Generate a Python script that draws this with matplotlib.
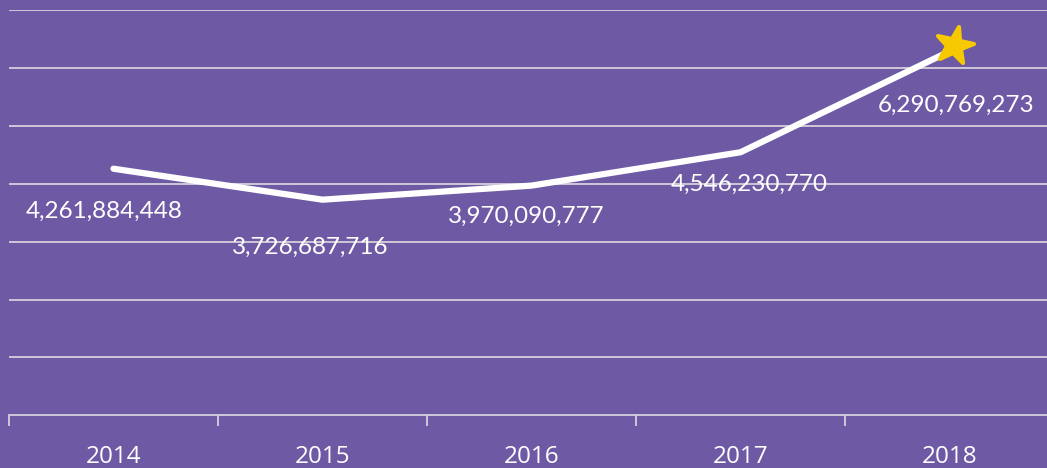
import matplotlib.pyplot as plt
from matplotlib.markers import MarkerStyle

years = ['2014', '2015', '2016', '2017', '2018']
values = [4261884448, 3726687716, 3970090777, 4546230770, 6290769273]

# label offsets in points (dx, dy) from each point
label_offsets = [(-7, -31), (-9, -34), (-4, -22), (6, -23), (4.5, -39)]

bg = '#6E59A4'
grid = '#D4D0DC'

fig = plt.figure(figsize=(10.47, 4.68), dpi=100, facecolor=bg)
ax = fig.add_axes([9 / 1047, 0.1126, 1045 / 1047, 0.978 - 0.1126])
ax.set_facecolor(bg)

x = list(range(len(years)))
ax.plot(x, values, color='white', lw=4.5, solid_capstyle='round',
        solid_joinstyle='miter', zorder=3)

star = MarkerStyle('*', joinstyle='round')
star._transform = star.get_transform().rotate_deg(-12).translate(0.12, 0.14)
ax.plot(x[-1], values[-1], marker=star, ms=28, color='#F7C900',
        mec='#F7C900', mew=3, zorder=4, clip_on=False)

for xi, v, (dx, dy) in zip(x, values, label_offsets):
    ax.annotate(f'{v:,}', (xi, v), xytext=(dx, dy), textcoords='offset points',
                ha='center', va='center', color='white', fontsize=17.5,
                family='Lato', zorder=5)

ax.set_xlim(-0.5, 4.5)
ax.set_ylim(0, 7e9)
ax.set_yticks([i * 1e9 for i in range(1, 8)])
ax.yaxis.grid(True, color=grid, lw=1.3)
ax.set_axisbelow(True)
ax.tick_params(axis='y', left=False, labelleft=False)

ax.set_xticks([i - 0.5 for i in range(5)])
ax.set_xticklabels([])
ax.set_xticks(x, minor=True)
ax.set_xticklabels(years, minor=True, color='white', fontsize=17.5, family='Open Sans')
ax.tick_params(axis='x', which='major', length=8, color=grid, width=1.3)
ax.tick_params(axis='x', which='minor', length=0, pad=21.5)

for s in ['top', 'right', 'left']:
    ax.spines[s].set_visible(False)
ax.spines['bottom'].set_color(grid)
ax.spines['bottom'].set_linewidth(1.3)

fig.savefig('out.png', facecolor=bg)
